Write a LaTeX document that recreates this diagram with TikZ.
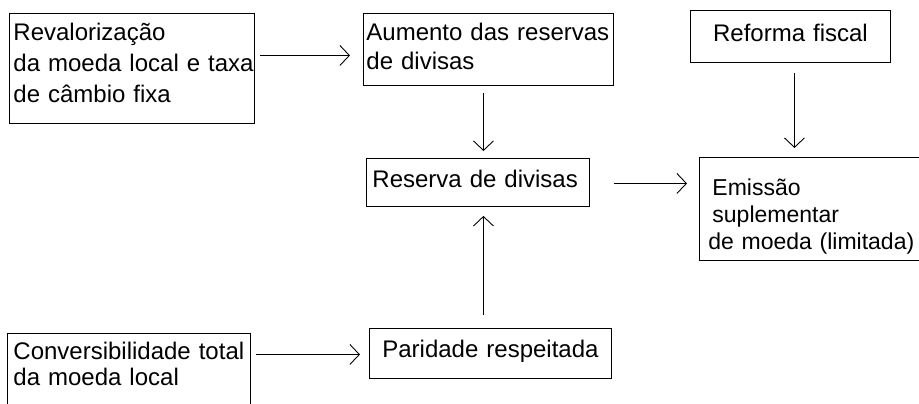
\documentclass[tikz,border=0pt]{standalone}
\usepackage{fontspec}
\setmainfont{Liberation Sans}
\usetikzlibrary{arrows.meta}
\newcommand{\dnstrut}[1]{\rule[-#1]{0pt}{#1}}
\newcommand{\histrut}[1]{\rule{0pt}{#1}}
\begin{document}
\begin{tikzpicture}[x=1pt,y=-1pt,
  box/.style={draw=black, line width=0.9pt, rectangle, anchor=north west, inner ysep=0pt, align=left},
  arr/.style={draw=black, line width=0.9pt, -{Straight Barb[length=9.5pt,width=20pt]}}]
\useasboundingbox (0,0) rectangle (919,404);
\node[box, inner xsep=4pt, text width=237pt, minimum width=245pt, minimum height=110pt,
  font=\fontsize{24}{31}\selectfont] (rev) at (9,13)
  {\histrut{18pt}\mbox{Revalorização}\\\mbox{da moeda local e taxa}\\\mbox{de câmbio fixa}\dnstrut{12pt}};
\node[box, inner xsep=3pt, text width=244pt, minimum width=250pt, minimum height=72pt,
  font=\fontsize{24}{29}\selectfont] (aum) at (363,13)
  {\histrut{18pt}\mbox{Aumento das reservas}\\\mbox{de divisas}\dnstrut{7pt}};
\node[box, align=center, inner xsep=4pt, text width=192pt, minimum width=200pt, minimum height=52pt,
  font=\fontsize{24}{29}\selectfont] (ref) at (690,10)
  {\histrut{18pt}\mbox{Reforma fiscal}\dnstrut{8.6pt}};
\node[box, inner xsep=6pt, text width=211pt, minimum width=223pt, minimum height=48pt,
  font=\fontsize{24}{29}\selectfont] (res) at (366,158)
  {\histrut{18pt}\mbox{Reserva de divisas}\dnstrut{7.4pt}};
\node[box, inner xsep=9pt, text width=232pt, minimum width=250pt, minimum height=103pt,
  font=\fontsize{23}{27}\selectfont] (emi) at (699,157)
  {\histrut{33pt}\hspace*{4pt}\mbox{Emissão}\\\hspace*{4pt}\mbox{suplementar}\\\mbox{de moeda (limitada)}\dnstrut{6pt}};
\node[box, align=center, inner xsep=4pt, text width=234pt, minimum width=242pt, minimum height=50pt,
  font=\fontsize{24}{29}\selectfont] (par) at (369,328)
  {\histrut{18pt}\mbox{Paridade respeitada}\dnstrut{10.6pt}};
\node[box, inner xsep=6pt, text width=231pt, minimum width=243pt, minimum height=82pt,
  font=\fontsize{24}{26}\selectfont] (con) at (7,333)
  {\histrut{18pt}\mbox{Conversibilidade total}\\\mbox{da moeda local}\dnstrut{21.7pt}};
\draw[arr] ([shift={(5pt,13pt)}]rev.east) -- ([shift={(-13pt,-6pt)}]aum.west);
\draw[arr] ([shift={(-5pt,-7pt)}]aum.south) -- ([shift={(5.5pt,7pt)}]res.north);
\draw[arr] ([shift={(4pt,-10pt)}]ref.south) -- ([shift={(-30pt,9pt)}]emi.north);
\draw[arr] ([shift={(24pt,-1pt)}]res.east) -- ([shift={(-12pt,25.5pt)}]emi.west);
\draw[arr] ([shift={(-7pt,13pt)}]par.north) -- ([shift={(5.5pt,-9pt)}]res.south);
\draw[arr] ([shift={(5pt,20pt)}]con.east) -- ([shift={(-9pt,-1pt)}]par.west);
\end{tikzpicture}
\end{document}
